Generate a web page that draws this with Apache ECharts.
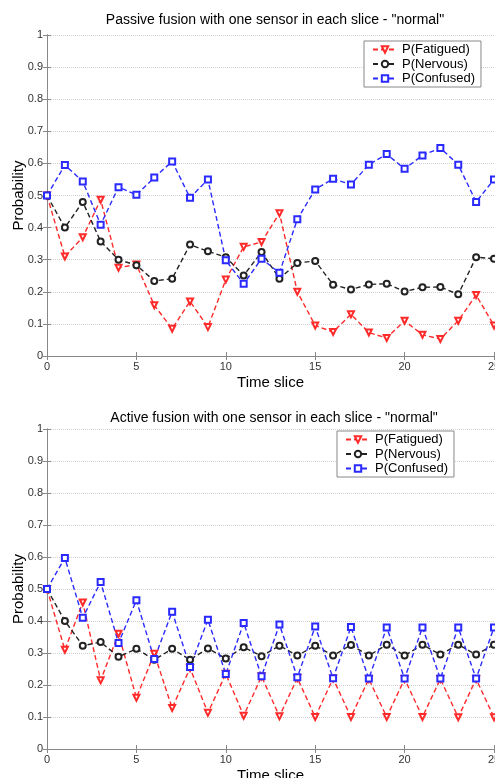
<!DOCTYPE html>
<html>
<head>
<meta charset="utf-8">
<script src="https://cdn.jsdelivr.net/npm/echarts@6/dist/echarts.min.js"></script>
<style>
html,body{margin:0;padding:0;background:#fff;}
#main{width:495px;height:778px;}
</style>
</head>
<body>
<div id="main"></div>
<script>
// time slices shared by both panels
var timeSlices = [0,1,2,3,4,5,6,7,8,9,10,11,12,13,14,15,16,17,18,19,20,21,22,23,24,25];

// top panel - passive fusion
var passiveFatigued = [0.5,0.31,0.37,0.487,0.275,0.285,0.158,0.085,0.17,0.09,0.238,0.34,0.355,0.445,0.2,0.095,0.075,0.13,0.073,0.056,0.11,0.066,0.053,0.11,0.19,0.095];
var passiveNervous = [0.5,0.40,0.48,0.357,0.30,0.283,0.234,0.241,0.347,0.326,0.308,0.251,0.324,0.241,0.29,0.296,0.222,0.207,0.223,0.225,0.201,0.214,0.215,0.192,0.308,0.303];
var passiveConfused = [0.5,0.595,0.544,0.409,0.526,0.502,0.556,0.606,0.493,0.55,0.298,0.225,0.303,0.259,0.426,0.519,0.552,0.534,0.596,0.629,0.583,0.625,0.648,0.596,0.48,0.55];

// bottom panel - active fusion
var activeFatigued = [0.5,0.31,0.458,0.215,0.36,0.16,0.298,0.128,0.253,0.113,0.235,0.104,0.227,0.102,0.222,0.1,0.22,0.1,0.219,0.1,0.219,0.1,0.219,0.099,0.219,0.099];
var activeNervous = [0.5,0.4,0.323,0.334,0.288,0.313,0.279,0.313,0.279,0.314,0.283,0.318,0.29,0.323,0.292,0.323,0.292,0.325,0.292,0.326,0.292,0.326,0.295,0.326,0.295,0.326];
var activeConfused = [0.5,0.597,0.41,0.522,0.331,0.465,0.281,0.429,0.256,0.404,0.234,0.394,0.227,0.389,0.224,0.383,0.221,0.381,0.22,0.38,0.22,0.38,0.22,0.38,0.22,0.38];

var seriesNames = ['P(Fatigued)','P(Nervous)','P(Confused)'];
var titles = ['Passive fusion with one sensor in each slice - "normal"','Active fusion with one sensor in each slice - "normal"'];

var FONT = 'Liberation Sans, Arial, sans-serif';
var colors = ['#ff2a2a','#222222','#2a2aff'];
var symbols = ['emptyTriangle','emptyCircle','emptyRect'];
var rotates = [180,0,0];

function pairs(vals){
	var out=[];
	for(var i=0;i<timeSlices.length;i++){
		out.push([timeSlices[i],vals[i]]);
	}
	return out;
}

function makeSeries(idx,vals,axisIdx){
	return {
		name: seriesNames[idx],
		type: 'line',
		xAxisIndex: axisIdx,
		yAxisIndex: axisIdx,
		data: pairs(vals),
		symbol: symbols[idx],
		symbolRotate: rotates[idx],
		symbolSize: 6,
		animation: false,
		lineStyle: {color: colors[idx], width: 1.4, type: [5,3]},
		itemStyle: {color: colors[idx], borderColor: colors[idx], borderWidth: 1}
	};
}

function bottomX(gridIdx){
	return {
		type: 'value', gridIndex: gridIdx, min: 0, max: 25, interval: 5,
		position: 'bottom',
		name: 'Time slice', nameLocation: 'middle', nameGap: 19, nameMoveOverlap: false,
		nameTextStyle: {fontFamily: FONT, fontSize: 15, color: '#000'},
		axisLine: {lineStyle: {color: '#888', width: 1}},
		axisTick: {inside: true, length: 4, lineStyle: {color: '#888'}},
		axisLabel: {fontFamily: FONT, fontSize: 11, color: '#333', margin: 5},
		splitLine: {show: false}
	};
}
function topX(gridIdx){
	return {
		type: 'value', gridIndex: gridIdx, min: 0, max: 25, interval: 5,
		position: 'top',
		axisLine: {lineStyle: {color: '#888', width: 1}},
		axisTick: {inside: true, length: 4, lineStyle: {color: '#888'}},
		axisLabel: {show: false},
		splitLine: {show: false}
	};
}
function leftY(gridIdx){
	return {
		type: 'value', gridIndex: gridIdx, min: 0, max: 1, interval: 0.1,
		position: 'left',
		name: 'Probability', nameLocation: 'middle', nameGap: 21, nameMoveOverlap: false,
		nameTextStyle: {fontFamily: FONT, fontSize: 15, color: '#000'},
		axisLine: {show: true, lineStyle: {color: '#888', width: 1}},
		axisTick: {show: true, inside: true, length: 4, lineStyle: {color: '#888'}},
		axisLabel: {fontFamily: FONT, fontSize: 11, color: '#333', margin: 4},
		splitLine: {show: true, lineStyle: {color: '#d0d0d0', type: 'dotted', width: 1}}
	};
}
function rightY(gridIdx){
	return {
		type: 'value', gridIndex: gridIdx, min: 0, max: 1, interval: 0.1,
		position: 'right',
		axisLine: {show: true, lineStyle: {color: '#888', width: 1}},
		axisTick: {show: true, inside: true, length: 4, lineStyle: {color: '#888'}},
		axisLabel: {show: false},
		splitLine: {show: false}
	};
}

function makeLegend(left,top){
	return {
		data: seriesNames,
		orient: 'vertical',
		left: left, top: top,
		padding: [2,6,2,8],
		itemWidth: 24, itemHeight: 8, itemGap: 1.5,
		borderColor: '#888', borderWidth: 1,
		backgroundColor: '#fff',
		selectedMode: false,
		textStyle: {fontFamily: FONT, fontSize: 13, color: '#000'}
	};
}

var chart = echarts.init(document.getElementById('main'));
var option = {
	backgroundColor: '#fff',
	animation: false,
	title: [
		{text: titles[0], left: 270, top: 8, textAlign: 'center',
		 textStyle: {fontFamily: FONT, fontSize: 14, fontWeight: 'normal', color: '#000'}},
		{text: titles[1], left: 269, top: 406, textAlign: 'center',
		 textStyle: {fontFamily: FONT, fontSize: 14, fontWeight: 'normal', color: '#000'}}
	],
	legend: [makeLegend(364,41), makeLegend(337,431)],
	grid: [
		{left: 47, top: 35, width: 447, height: 321, outerBoundsMode: 'none', containLabel: false},
		{left: 47, top: 429, width: 447, height: 320, outerBoundsMode: 'none', containLabel: false}
	],
	xAxis: [bottomX(0), topX(0), bottomX(1), topX(1)],
	yAxis: [leftY(0), rightY(0), leftY(1), rightY(1)],
	series: [
		makeSeries(0,passiveFatigued,0),
		makeSeries(1,passiveNervous,0),
		makeSeries(2,passiveConfused,0),
		makeSeries(0,activeFatigued,2),
		makeSeries(1,activeNervous,2),
		makeSeries(2,activeConfused,2)
	]
};
chart.setOption(option);
</script>
</body>
</html>
